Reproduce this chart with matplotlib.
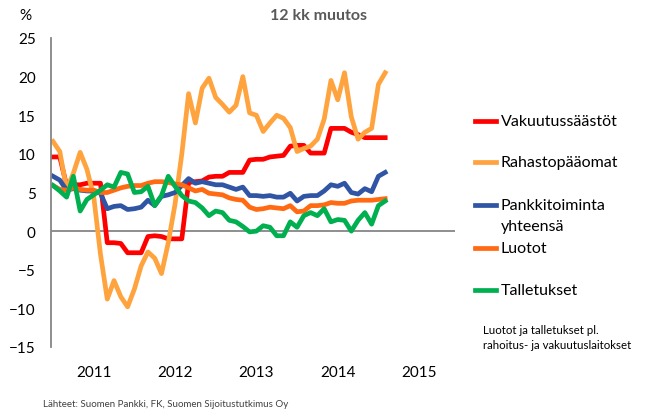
import matplotlib
matplotlib.use("Agg")
import matplotlib.pyplot as plt
from matplotlib.lines import Line2D
import numpy as np

plt.rcParams['font.family'] = ['Lato', 'DejaVu Sans']

# monthly index, 0 = Jul 2010 ... 49 = Aug 2014
months = np.arange(50)
year_ticks = [6, 18, 30, 42, 54]
year_labels = ['2011', '2012', '2013', '2014', '2015']

vakuutus = [9.6, 9.6, 5.9, 6.0, 6.0, 6.2, 6.2, 6.2, -1.5, -1.5,
            -1.6, -2.8, -2.8, -2.8, -0.7, -0.6, -0.7, -1.0, -1.0, -1.0,
            6.3, 6.4, 6.5, 7.0, 7.1, 7.1, 7.6, 7.6, 7.6, 9.2,
            9.3, 9.3, 9.6, 9.7, 9.8, 11.0, 11.1, 11.1, 10.1, 10.1,
            10.1, 13.3, 13.3, 13.3, 12.8, 12.5, 12.1, 12.1, 12.1, 12.1]
rahasto = [11.6, 10.3, 5.4, 7.5, 10.2, 8.0, 4.5, -3.0, -8.8, -6.4,
           -8.5, -9.8, -7.5, -4.5, -2.7, -3.5, -5.5, -1.5, 3.5, 10.0,
           17.8, 14.0, 18.5, 19.8, 17.3, 16.4, 15.4, 16.3, 20.0, 15.3,
           15.0, 12.9, 14.0, 15.0, 14.6, 13.4, 10.3, 10.7, 11.0, 11.9,
           14.5, 19.5, 17.0, 20.5, 14.8, 11.9, 12.8, 13.3, 19.0, 20.5]
pankki = [7.1, 6.6, 5.3, 5.5, 5.3, 5.2, 5.2, 4.9, 2.9, 3.2,
          3.3, 2.8, 2.9, 3.1, 4.0, 3.3, 4.5, 4.7, 5.0, 5.9,
          6.8, 6.2, 6.4, 6.2, 6.0, 6.0, 5.7, 5.4, 5.7, 4.6,
          4.6, 4.5, 4.6, 4.4, 4.4, 4.9, 3.9, 4.5, 4.6, 4.6,
          5.2, 6.0, 5.8, 6.2, 5.0, 4.8, 5.5, 5.1, 7.1, 7.6]
luotot = [5.9, 5.4, 5.3, 5.6, 5.4, 5.3, 5.3, 5.0, 5.0, 5.3,
          5.6, 5.8, 5.9, 5.9, 6.2, 6.4, 6.4, 6.3, 6.1, 6.0,
          5.6, 5.2, 5.4, 4.9, 4.8, 4.7, 4.3, 4.1, 4.0, 3.1,
          2.8, 2.9, 3.1, 3.0, 2.9, 3.3, 2.5, 2.6, 3.3, 3.3,
          3.4, 3.7, 3.6, 3.6, 3.9, 4.0, 4.0, 4.0, 4.1, 4.2]
talletukset = [5.9, 5.2, 4.4, 7.1, 2.6, 4.1, 4.7, 5.3, 6.0, 5.7,
               7.6, 7.4, 5.0, 5.1, 5.8, 3.3, 4.6, 7.1, 5.8, 4.6,
               3.9, 3.7, 3.0, 2.0, 2.6, 2.4, 1.4, 1.2, 0.6, -0.1,
               0.0, 0.7, 0.5, -0.6, -0.6, 1.2, 0.5, 2.0, 2.4, 2.0,
               2.9, 1.2, 1.5, 1.4, 0.0, 1.4, 2.4, 0.9, 3.3, 3.9]

labels = ['Vakuutussäästöt', 'Rahastopääomat', 'Pankkitoiminta\nyhteensä',
          'Luotot', 'Talletukset']
colors = ['#FF0000', '#FFA33F', '#2F55A4', '#FF6A13', '#00B050']
series = [vakuutus, rahasto, pankki, luotot, talletukset]

W, H = 647, 410
fig = plt.figure(figsize=(W / 100, H / 100), dpi=100)
ax = fig.add_axes([51 / W, 1 - 348 / H, 404 / W, 309 / H])

ax.axhline(0, color='#868686', lw=1.3, zorder=1)
for vals, c in zip(series, colors):
    ax.plot(months, vals, color=c, lw=3.4, zorder=2)

ax.set_xlim(-0.3, 59.3)
ax.set_ylim(-15, 25)
ax.set_yticks(range(-15, 30, 5))
ax.set_xticks(year_ticks)
ax.set_xticklabels(year_labels)
ax.tick_params(length=0, labelsize=11)
ax.tick_params(axis='x', pad=13)
ax.tick_params(axis='y', pad=11)
for s in ['top', 'right', 'bottom']:
    ax.spines[s].set_visible(False)
ax.spines['left'].set_color('#868686')
ax.spines['left'].set_linewidth(1.3)

# legend, drawn by hand (two-line entry aligned to its first line)
leg_y = [122, 163, 206, 249, 291]
for lab, c, y in zip(labels, colors, leg_y):
    yf = 1 - y / H
    fig.add_artist(Line2D([475 / W, 496 / W], [yf, yf], transform=fig.transFigure,
                          color=c, lw=3.4))
    first, *rest = lab.split('\n')
    fig.text(501 / W, yf, first, va='center', fontsize=11.5)
    for k, line in enumerate(rest):
        fig.text(501 / W, 1 - (y + 21 * (k + 1)) / H, line, va='center', fontsize=11.5)

fig.text(25 / W, 1 - 16 / H, '%', ha='center', va='center', fontsize=11)
fig.text(319 / W, 1 - 16 / H, '12 kk muutos', ha='center', va='center',
         fontsize=11.5, fontweight='bold', color='#595959')
fig.text(483 / W, 1 - 338 / H, 'Luotot ja talletukset pl.\nrahoitus- ja vakuutuslaitokset',
         va='center', fontsize=8.3, linespacing=1.45)
fig.text(43 / W, 1 - 405 / H, 'Lähteet: Suomen Pankki, FK, Suomen Sijoitustutkimus Oy',
         va='center', fontsize=7, color='#404040')

fig.savefig('out.png', dpi=100)
